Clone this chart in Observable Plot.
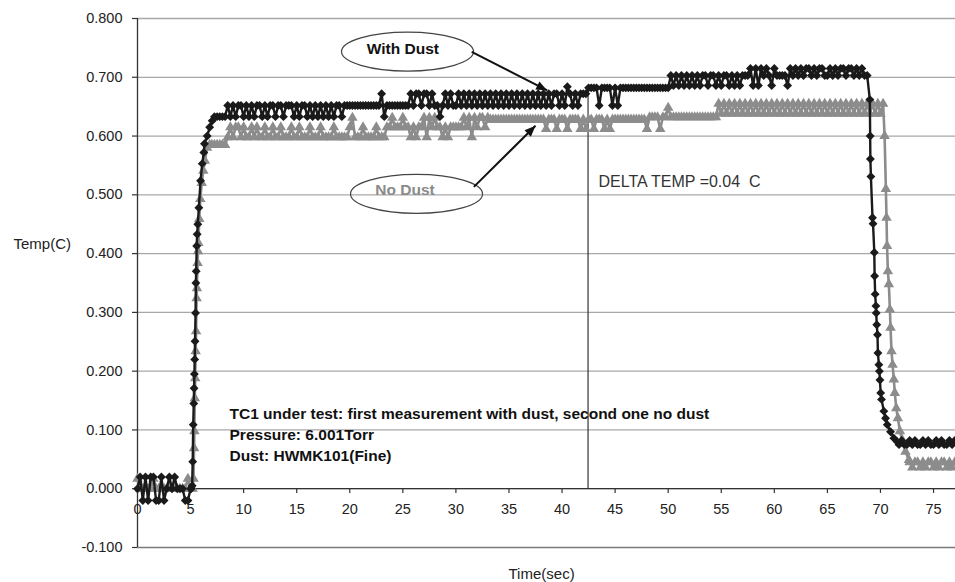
<!DOCTYPE html>
<html>
<head>
<meta charset="utf-8">
<script src="https://cdn.jsdelivr.net/npm/d3@7"></script>
<script src="https://cdn.jsdelivr.net/npm/@observablehq/plot@0.6"></script>
<style>
  html, body { margin: 0; padding: 0; background: #fff; }
  #chart svg { display: block; }
</style>
</head>
<body>
<div id="chart"></div>
<script>
// ---------- axis ticks ----------
const xTicks = [0, 5, 10, 15, 20, 25, 30, 35, 40, 45, 50, 55, 60, 65, 70, 75];
const yTicks = [-0.1, 0, 0.1, 0.2, 0.3, 0.4, 0.5, 0.6, 0.7, 0.8];

// sample spacing of the uniformly sampled stretches (seconds)
const step = 0.25;

// ---------- With Dust (black diamonds) ----------
const dustBaseStart = 0;
const dustBase = [0, .02, -.02, .02, -.02, .02, .02, -.02, -.02, .02, -.02, 0, .02, 0, .02, 0, 0, 0, -.02, -.02, 0];
const dustRiseT = [5.05, 5.15, 5.2, 5.25, 5.3, 5.33, 5.36, 5.39, 5.42, 5.47, 5.5, 5.53, 5.58, 5.62, 5.68, 5.78, 5.94, 6.1, 6.25, 6.31, 6.57, 6.8, 7.04];
const dustRiseV = [0, .005, .046, .109, .145, .171, .195, .22, .251, .299, .35, .37, .413, .433, .45, .478, .524, .553, .572, .587, .6, .615, .626];
const dustPlateauStart = 7.25;
const dustPlateau = [
  .633,.633,.633,.633,.633,.652,.633,.652,.633,.652,.652,.633,.652,.633,.652,.633,.652,.652,.633,.652,
  .633,.652,.652,.633,.652,.652,.633,.652,.652,.652,.633,.652,.633,.652,.652,.633,.652,.633,.652,.633,
  .652,.633,.652,.633,.652,.633,.652,.652,.633,.652,.652,.652,.652,.652,.652,.652,.652,.652,.652,.652,
  .652,.652,.652,.672,.633,.652,.652,.652,.652,.652,.652,.652,.652,.652,.672,.652,.672,.672,.652,.672,
  .672,.652,.672,.652,.652,.633,.652,.672,.652,.672,.652,.652,.672,.652,.672,.652,.672,.652,.672,.652,
  .672,.652,.672,.652,.672,.652,.672,.652,.672,.652,.672,.652,.672,.652,.672,.652,.672,.652,.672,.652,
  .672,.652,.672,.652,.672,.652,.672,.652,.672,.672,.652,.672,.652,.684,.672,.652,.672,.652,.672,.672,
  .672,.682,.682,.682,.682,.652,.682,.682,.682,.682,.652,.682,.652,.682,.682,.682,.682,.682,.682,.682,
  .682,.682,.682,.682,.682,.682,.682,.682,.682,.682,.682,.682,.703,.686,.703,.686,.703,.686,.703,.686,
  .703,.686,.703,.686,.703,.703,.686,.703,.703,.686,.703,.686,.703,.703,.686,.703,.686,.703,.686,.703,
  .703,.703,.715,.686,.715,.686,.715,.703,.715,.703,.686,.715,.703,.703,.703,.703,.686,.715,.703,.715,
  .703,.715,.703,.715,.715,.703,.715,.703,.715,.715,.703,.703,.715,.703,.715,.703,.715,.715,.703,.715,
  .715,.703,.715,.703,.715,.703,.703
];
const dustFallT = [69.0, 69.03, 69.05, 69.1, 69.25, 69.3, 69.42, 69.45, 69.5, 69.57, 69.6, 69.65, 69.72, 69.76, 69.85, 69.9, 69.95, 70.02, 70.1, 70.32, 70.48, 70.64, 70.95, 71.26, 71.58];
const dustFallV = [.662, .60, .561, .531, .461, .451, .402, .362, .331, .311, .299, .279, .262, .231, .211, .2, .185, .163, .152, .132, .12, .109, .097, .086, .08];
const dustTailStart = 71.75;
const dustTail = [.075,.082,.075,.075,.082,.075,.082,.075,.075,.082,.075,.082,.075,.075,.082,.075,.082,.075,.075,.082,.075,.082];

// ---------- No Dust (grey triangles) ----------
const noDustBaseStart = 0;
const noDustBase = [.017, 0, 0, 0, 0, 0, .017, 0, 0, 0, 0, 0, 0, 0, 0, 0, 0, 0, 0, .017, 0];
const noDustRiseT = [5.2, 5.28, 5.33, 5.36, 5.4, 5.44, 5.48, 5.52, 5.57, 5.6, 5.66, 5.7, 5.74, 5.82, 5.92, 6.05, 6.2, 6.35, 6.55, 6.8];
const noDustRiseV = [0, .017, .069, .098, .154, .188, .234, .268, .324, .341, .384, .404, .418, .459, .493, .52, .541, .558, .58, .585];
const noDustPlateauStart = 7.0;
const noDustPlateau = [
  .585,.585,.585,.585,.585,.585,.598,.615,.598,.615,.615,.598,.615,.598,.598,.615,.598,.615,.598,.598,
  .615,.598,.598,.615,.598,.598,.615,.598,.598,.598,.615,.598,.598,.615,.598,.598,.598,.615,.598,.598,
  .598,.615,.598,.598,.598,.598,.615,.598,.598,.598,.598,.598,.615,.631,.598,.598,.598,.615,.598,.598,
  .598,.598,.615,.598,.598,.598,.615,.615,.631,.615,.615,.615,.631,.615,.615,.598,.615,.598,.615,.615,
  .631,.598,.631,.615,.631,.615,.615,.598,.615,.598,.615,.615,.615,.615,.615,.631,.615,.631,.598,.631,
  .615,.631,.631,.615,.631,.628,.628,.628,.628,.628,.628,.628,.628,.628,.628,.628,.628,.628,.628,.628,
  .628,.628,.628,.628,.628,.628,.612,.628,.628,.628,.612,.628,.628,.628,.612,.628,.628,.628,.628,.612,
  .628,.612,.628,.628,.612,.628,.628,.628,.612,.628,.612,.628,.628,.628,.628,.628,.628,.628,.628,.628,
  .628,.628,.628,.628,.612,.632,.632,.632,.632,.612,.632,.632,.648,.632,.632,.632,.632,.632,.632,.632,
  .632,.632,.632,.632,.632,.632,.632,.632,.632,.632,.632,.655,.638,.655,.638,.655,.638,.655,.638,.655,
  .638,.655,.638,.655,.638,.655,.638,.655,.638,.655,.638,.655,.638,.655,.638,.655,.638,.655,.638,.655,
  .638,.655,.638,.655,.638,.655,.638,.655,.638,.655,.638,.655,.638,.655,.638,.655,.638,.655,.638,.655,
  .638,.655,.638,.655,.638,.655,.638,.655,.638,.655,.638,.655,.638,.655
];
const noDustFallT = [70.39, 70.51, 70.57, 70.62, 70.7, 70.79, 70.89, 70.95, 71.04, 71.14, 71.26, 71.35, 71.49, 71.64, 71.83, 72.05, 72.36, 72.68];
const noDustFallV = [.60, .51, .461, .413, .37, .348, .305, .274, .234, .211, .186, .163, .137, .12, .098, .083, .063, .049];
const noDustTailStart = 72.75;
const noDustTail = [.045,.036,.045,.045,.036,.045,.036,.045,.045,.036,.045,.036,.045,.045,.036,.045,.036,.045];

// ---------- annotations ----------
const seriesLabels = [
  {t: 25.0, v: 0.7475, text: "With Dust", color: "#111"},
  {t: 25.2, v: 0.5084, text: "No Dust", color: "#8a8a8a"}
];
const ellipses = [{t: 25.44, v: 0.7437}, {t: 26.29, v: 0.5016}];
const arrows = [
  {t1: 31.49, v1: 0.7432, t2: 38.6, v2: 0.6776},
  {t1: 31.69, v1: 0.5136, t2: 37.5, v2: 0.6176}
];
const deltaLine = [{t: 42.45, v1: 0, v2: 0.682}];
const deltaText = [{t: 43.44, v: 0.522, text: "DELTA TEMP =0.04  C"}];
const noteLines = [
  {t: 8.67, v: 0.1265, text: "TC1 under test: first measurement with dust, second one no dust"},
  {t: 8.67, v: 0.0907, text: "Pressure: 6.001Torr"},
  {t: 8.67, v: 0.0549, text: "Dust: HWMK101(Fine)"}
];
const yTitle = [{t: 0, v: 0.416, text: "Temp(C)"}];
const xTitle = [{t: 38.07, v: -0.1, text: "Time(sec)"}];

// ---------- assemble series ----------
function uniform(start, vals) { return vals.map((v, i) => ({t: start + i * step, v})); }
function paired(ts, vs) { return ts.map((t, i) => ({t, v: vs[i]})); }

const dust = [
  ...uniform(dustBaseStart, dustBase),
  ...paired(dustRiseT, dustRiseV),
  ...uniform(dustPlateauStart, dustPlateau),
  ...paired(dustFallT, dustFallV),
  ...uniform(dustTailStart, dustTail)
];
const noDust = [
  ...uniform(noDustBaseStart, noDustBase),
  ...paired(noDustRiseT, noDustRiseV),
  ...uniform(noDustPlateauStart, noDustPlateau),
  ...paired(noDustFallT, noDustFallV),
  ...uniform(noDustTailStart, noDustTail)
];

const W = 955, H = 582, ML = 137, MR = 0, MT = 18, MB = 35;
const xDomain = [0, 77.07], yDomain = [-0.1, 0.8];
const pxPerT = (W - ML - MR) / (xDomain[1] - xDomain[0]);
const pxPerV = (H - MT - MB) / (yDomain[1] - yDomain[0]);
// arrow-head orientation (degrees, 0 = pointing up) derived from each arrow's direction on screen
const headAngle = a => 90 + Math.atan2(-(a.v2 - a.v1) * pxPerV, (a.t2 - a.t1) * pxPerT) * 180 / Math.PI;

const ellipseSymbol = {
  draw(ctx) {
    const rx = 66, ry = 19.5, k = 0.5523;
    ctx.moveTo(rx, 0);
    ctx.bezierCurveTo(rx, ry * k, rx * k, ry, 0, ry);
    ctx.bezierCurveTo(-rx * k, ry, -rx, ry * k, -rx, 0);
    ctx.bezierCurveTo(-rx, -ry * k, -rx * k, -ry, 0, -ry);
    ctx.bezierCurveTo(rx * k, -ry, rx, -ry * k, rx, 0);
    ctx.closePath();
  }
};
// filled arrow head, tip at the symbol origin, pointing up
const headSymbol = {
  draw(ctx) {
    ctx.moveTo(0, 0);
    ctx.lineTo(4.5, 11);
    ctx.lineTo(-4.5, 11);
    ctx.closePath();
  }
};

const FONT = "'Liberation Sans', Arial, Helvetica, sans-serif";
const BLACK = "#1a1a1a";
const GREY = "#8c8c8c";

const chart = Plot.plot({
  width: W,
  height: H,
  marginLeft: ML,
  marginRight: MR,
  marginTop: MT,
  marginBottom: MB,
  x: {domain: xDomain, axis: null},
  y: {domain: yDomain, axis: null},
  style: {fontFamily: FONT, background: "#fff", color: "#222"},
  marks: [
    // gridlines
    Plot.ruleY(yTicks.filter(d => d !== -0.1), {x1: xDomain[0], x2: xDomain[1], stroke: "#a8a8a8", strokeWidth: 1.3}),
    Plot.ruleY([-0.1], {x1: xDomain[0], x2: xDomain[1], stroke: "#7a7a7a", strokeWidth: 1.3}),
    // y axis line & ticks
    Plot.ruleX([0], {y1: yDomain[0], y2: yDomain[1], stroke: "#333", strokeWidth: 1.3}),
    Plot.ruleY(yTicks, {x1: 0, x2: -0.47, stroke: "#333", strokeWidth: 1.2}),
    Plot.text(yTicks, {x: () => 0, y: d => d, text: d => d.toFixed(3), dx: -15, textAnchor: "end", fontSize: 14.5, fill: "#222"}),
    // x axis line at 0 & ticks
    Plot.ruleY([0], {x1: xDomain[0], x2: xDomain[1], stroke: "#333", strokeWidth: 1.3}),
    Plot.ruleX(xTicks, {y1: 0, y2: -0.008, stroke: "#333", strokeWidth: 1.2}),
    Plot.text(xTicks, {x: d => d, y: () => 0, text: d => String(d), dy: 21, fontSize: 14.5, fill: "#222"}),
    // axis titles
    Plot.text(yTitle, {x: "t", y: "v", text: "text", dx: -124, textAnchor: "start", fontSize: 15, fill: "#222"}),
    Plot.text(xTitle, {x: "t", y: "v", text: "text", dy: 27, fontSize: 15, fill: "#222"}),
    // delta line
    Plot.ruleX(deltaLine, {x: "t", y1: "v1", y2: "v2", stroke: "#333", strokeWidth: 1.2}),
    // No Dust series
    Plot.line(noDust, {x: "t", y: "v", stroke: GREY, strokeWidth: 2.6}),
    Plot.dot(noDust, {x: "t", y: "v", symbol: "triangle", r: 3.9, fill: GREY, stroke: "none"}),
    // With Dust series
    Plot.line(dust, {x: "t", y: "v", stroke: BLACK, strokeWidth: 2.4}),
    Plot.dot(dust, {x: "t", y: "v", symbol: "diamond2", r: 4.0, fill: BLACK, stroke: "none"}),
    // annotations
    Plot.dot(ellipses, {x: "t", y: "v", symbol: ellipseSymbol, r: 1, fill: "none", stroke: "#444", strokeWidth: 1.2}),
    Plot.text(seriesLabels, {x: "t", y: "v", text: "text", fill: "color", fontSize: 15.5, fontWeight: "bold"}),
    Plot.link(arrows, {x1: "t1", y1: "v1", x2: "t2", y2: "v2", stroke: "#111", strokeWidth: 2}),
    Plot.dot(arrows, {x: "t2", y: "v2", symbol: headSymbol, r: 1, rotate: headAngle, fill: "#111", stroke: "none"}),
    Plot.text(deltaText, {x: "t", y: "v", text: "text", textAnchor: "start", fontSize: 16, fill: "#333"}),
    Plot.text(noteLines, {x: "t", y: "v", text: "text", textAnchor: "start", fontSize: 15.5, fontWeight: "bold", fill: "#111"})
  ]
});

document.getElementById("chart").appendChild(chart);
</script>
</body>
</html>
